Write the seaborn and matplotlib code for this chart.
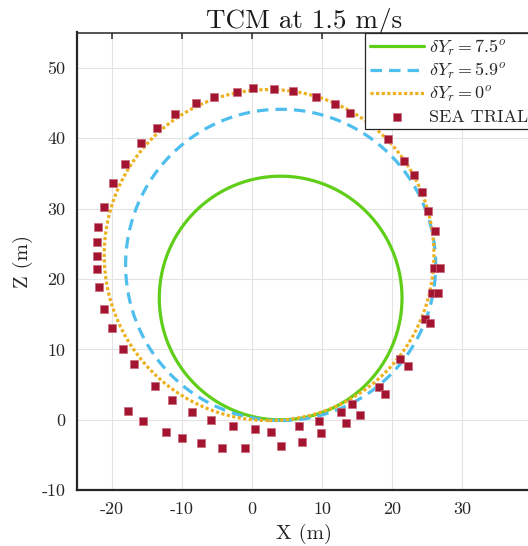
import numpy as np
import pandas as pd
import matplotlib
matplotlib.use("Agg")
import matplotlib.pyplot as plt
import seaborn as sns

# Simulated turning circles: centre (x, z) and radius, one per rudder offset
sim_labels = [r"$\delta Y_r = 7.5^o$", r"$\delta Y_r = 5.9^o$", r"$\delta Y_r = 0^o$"]
sim_cx = [4.1, 4.1, 2.45]
sim_cz = [17.3, 22.0, 23.4]
sim_r = [17.3, 22.1, 23.5]

# Sea trial track positions (m)
trial_x = [-22.06, -22.06, -22.06, -21.88, -21.81, -21.02, -19.73, -18.15, -15.76, -13.51,
           -11.03, -8.02, -5.44, -2.15, 0.21, 3.22, 5.80, 9.10, 11.82, 14.04,
           19.34, 21.73, 23.17, 24.25, 25.17, 26.12, 26.00, 26.86, 25.64, 26.50,
           24.74, 25.36, 21.16, 22.21, 18.05, 18.91, 14.23, 15.37, 12.65, 13.37,
           9.56, 9.79, 6.69, 7.16, 4.20, 2.77, 0.39, -0.96, -2.72, -4.30,
           -5.87, -7.31, -8.60, -9.93, -11.36, -12.18, -13.75, -15.52, -16.85, -17.66,
           -18.38, -19.96, -21.02]
trial_z = [21.35, 23.33, 25.31, 27.44, 18.84, 30.27, 33.60, 36.26, 39.24, 41.50,
           43.40, 45.04, 45.85, 46.60, 47.05, 46.98, 46.67, 45.88, 44.79, 43.63,
           39.94, 36.78, 34.76, 32.29, 29.70, 26.77, 21.53, 21.53, 18.05, 18.05,
           14.36, 13.77, 8.70, 7.61, 4.67, 3.74, 2.22, 0.67, 1.13, -0.42,
           -0.18, -1.93, -0.89, -3.12, -3.73, -1.70, -1.32, -4.05, -0.89, -4.05,
           -0.04, -3.30, 1.13, -2.63, 2.79, -1.78, 4.82, -0.14, 7.93, 1.27,
           10.06, 13.09, 15.78]

x_ticks = [-20, -10, 0, 10, 20, 30]
z_ticks = [-10, 0, 10, 20, 30, 40, 50]

sns.set_theme(style="white")
plt.rcParams.update({
    "font.family": ["cmr10", "DejaVu Serif"],
    "mathtext.fontset": "cm",
    "axes.unicode_minus": False,
    "axes.formatter.use_mathtext": False,
})

colors = ["#5FCE18", "#4DBEEE", "#EDB120"]
styles = [dict(lw=2.3), dict(lw=2.3, dashes=(3.6, 2.2)), dict(lw=2.3, dashes=(1.0, 0.75))]

fig = plt.figure(figsize=(5.28, 5.46), dpi=100)
ax = fig.add_axes([76.5 / 528, 55.7 / 546, 456 / 528, 457.8 / 546])

theta = np.linspace(0, 2 * np.pi, 721)
for lab, cx, cz, r, c, st in zip(sim_labels, sim_cx, sim_cz, sim_r, colors, styles):
    df = pd.DataFrame({"X": cx + r * np.sin(theta), "Z": cz - r * np.cos(theta)})
    sns.lineplot(data=df, x="X", y="Z", sort=False, estimator=None, color=c,
                 label=lab, ax=ax, **st)

trial = pd.DataFrame({"X": trial_x, "Z": trial_z})
sns.scatterplot(data=trial, x="X", y="Z", marker="s", s=40, color="#A2142F",
                edgecolor="#C8677A", linewidth=0.5, label="SEA TRIAL", ax=ax, zorder=5)

ax.set_xlim(-25, 40)
ax.set_ylim(-10, 55)
ax.set_xticks(x_ticks)
ax.set_yticks(z_ticks)
ax.grid(True, color="#e3e3e3", lw=0.8)
ax.set_axisbelow(True)

for side in ["left", "bottom"]:
    ax.spines[side].set_linewidth(1.6)
    ax.spines[side].set_color("#262626")
ax.spines["top"].set_linewidth(1.1)
ax.spines["top"].set_color("#262626")
ax.spines["right"].set_visible(False)

ax.tick_params(axis="both", direction="in", length=4, width=1.1, color="#262626",
               labelsize=13, labelcolor="#262626", pad=8, top=True, right=False)

ax.set_xlabel("X (m)", fontsize=15, color="#262626", labelpad=5)
ax.set_ylabel("Z (m)", fontsize=15, color="#262626", labelpad=6)
ax.set_title("TCM at 1.5 m/s", fontsize=19.5, color="#1a1a1a", pad=3)

leg = ax.legend(loc="upper left", bbox_to_anchor=(365 / 528, 1 - 33 / 546),
                bbox_transform=fig.transFigure, fontsize=13, frameon=True,
                fancybox=False, framealpha=1, edgecolor="#262626",
                handlelength=3.0, handletextpad=0.3, borderpad=0.25,
                labelspacing=0.2, borderaxespad=0)
leg.get_frame().set_linewidth(0.9)

fig.savefig("out.png", dpi=100)
